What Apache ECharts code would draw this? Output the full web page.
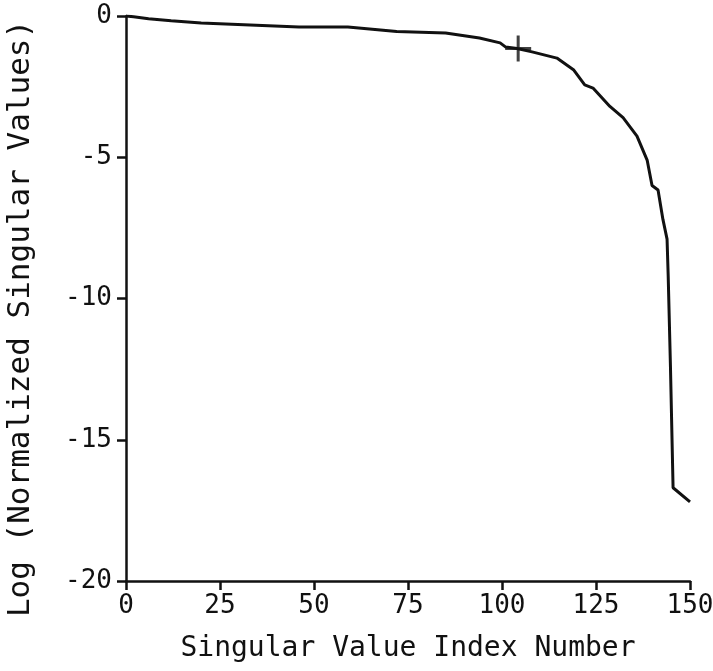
<!DOCTYPE html>
<html>
<head>
<meta charset="utf-8">
<script src="https://cdn.jsdelivr.net/npm/echarts@6/dist/echarts.min.js"></script>
<style>
  html, body { margin: 0; padding: 0; background: #fff; }
  #chart { width: 713px; height: 671px; }
</style>
</head>
<body>
<div id="chart"></div>
<script>
// singular value index
const indexNumbers = [0, 2, 6, 12, 20, 33, 46, 59, 72, 85, 94, 99.5, 101, 104, 108, 114.6, 119, 122,
  124.2, 128.7, 132.2, 135.9, 138.6, 139.9, 141.5, 142.8, 143.9, 144.2, 144.8, 145.5, 150]
// log of normalized singular values
const logValues = [0, -0.03, -0.1, -0.17, -0.25, -0.32, -0.39, -0.39, -0.55, -0.6, -0.78, -0.95, -1.1, -1.15,
  -1.27, -1.49, -1.9, -2.44, -2.55, -3.2, -3.6, -4.25, -5.1, -6.0, -6.16, -7.2, -7.9, -9.2, -12.4, -16.7, -17.2]
// the cross marker on the curve
const crossPoint = [104.3, -1.15]

const xTicks = [0, 25, 50, 75, 100, 125, 150]
const yTicks = [0, -5, -10, -15, -20]

const font = "DejaVu Sans Mono"
const ink = "#111"

const chart = echarts.init(document.getElementById("chart"))

const axisCommon = {
  axisLine: { show: true, onZero: false, lineStyle: { color: ink, width: 2.5 } },
  axisTick: { show: true, inside: false, length: 9, lineStyle: { color: ink, width: 2.5 } },
  splitLine: { show: false },
  nameTextStyle: { color: ink, fontFamily: font, fontSize: 28 },
}

chart.setOption({
  animation: false,
  grid: { left: 126, right: 23, top: 16, bottom: 90, containLabel: false, outerBoundsMode: "none" },
  xAxis: {
    ...axisCommon,
    type: "value",
    min: xTicks[0],
    max: xTicks[xTicks.length - 1],
    interval: 25,
    name: "Singular Value Index Number",
    nameLocation: "middle",
    nameGap: 54,
    axisLabel: { color: ink, fontFamily: font, fontSize: 26, margin: 12 },
  },
  yAxis: {
    ...axisCommon,
    type: "value",
    min: yTicks[yTicks.length - 1],
    max: yTicks[0],
    interval: 5,
    name: "Log (Normalized Singular Values)",
    nameLocation: "middle",
    nameGap: 90,
    nameTextStyle: { color: ink, fontFamily: font, fontSize: 31, padding: [0, 40, 0, 0] },
    axisLabel: { color: ink, fontFamily: font, fontSize: 26, margin: 14 },
  },
  series: [
    {
      type: "line",
      data: indexNumbers.map((x, i) => [x, logValues[i]]),
      showSymbol: false,
      lineStyle: { color: ink, width: 3 },
    },
    {
      type: "scatter",
      data: [crossPoint],
      symbol: "path://M-1.5,-13H1.5V13H-1.5ZM-13,-1.5H13V1.5H-13Z",
      symbolSize: 26,
      itemStyle: { color: ink },
    },
  ],
})
</script>
</body>
</html>
